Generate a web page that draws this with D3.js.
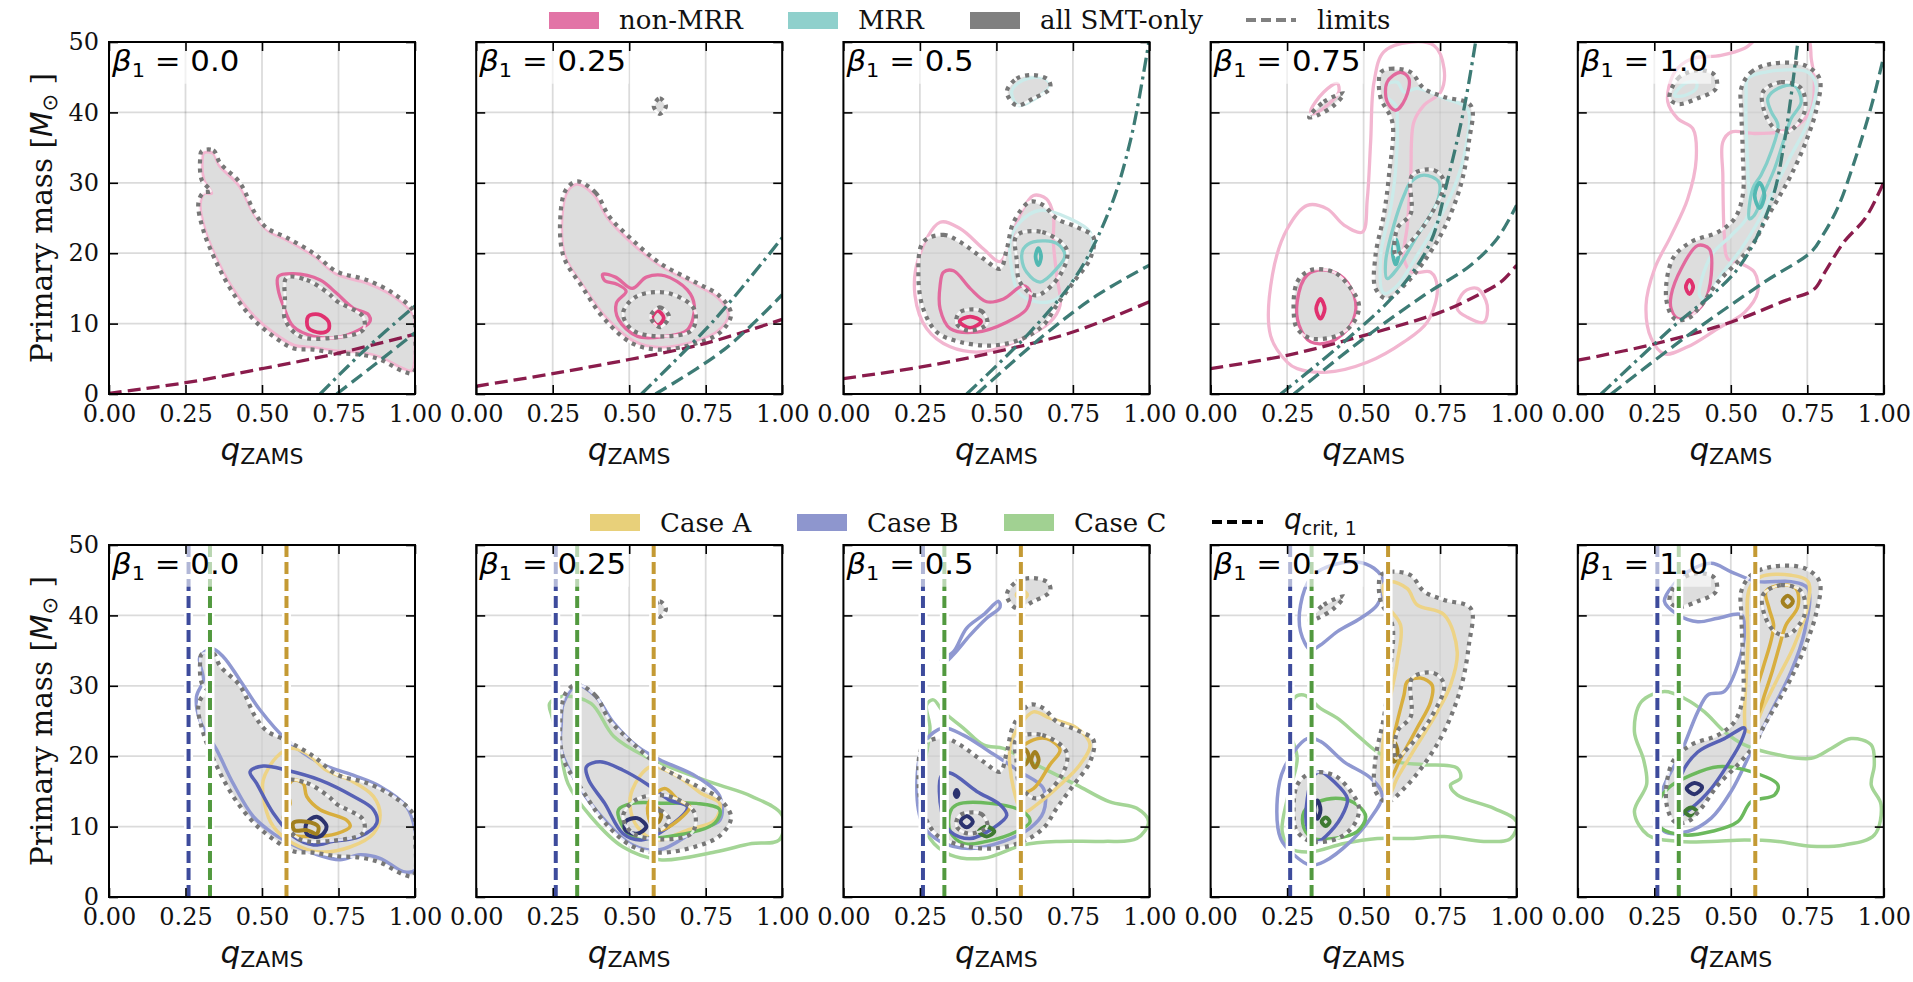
<!DOCTYPE html>
<html lang="en">
<head>
<meta charset="UTF-8">
<title>q_ZAMS vs primary mass</title>
<script src="https://d3js.org/d3.v7.min.js"></script>
<style>
  body { margin: 0; background: #fff; }
  svg { display: block; }
</style>
</head>
<body>
<script>
// ---- data (q_ZAMS, primary mass) ----
var betaLabels = ['0.0', '0.25', '0.5', '0.75', '1.0']
var qTicks = [0, 0.25, 0.5, 0.75, 1.0]
var qTickLabels = ['0.00', '0.25', '0.50', '0.75', '1.00']
var mTicks = [0, 10, 20, 30, 40, 50]
var qCrit = { B: 0.26, C: 0.33, A: 0.58 }

// all SMT-only, outermost level (filled + dotted), per beta panel
var allSmtOuter = [
  [[[0.303,34.5],[0.341,34.6],[0.363,32.8],[0.428,30],[0.477,25.7],[0.515,23.6],[0.581,22.2],[0.668,20],[0.744,17.4],[0.842,16.2],[0.929,14.3],[0.995,11.7],[1.0,8.7],[0.995,3.0],[0.962,3.2],[0.886,4.9],[0.82,5.6],[0.744,5.8],[0.668,6.3],[0.602,6.5],[0.537,8.2],[0.472,10.6],[0.406,14.3],[0.352,18.6],[0.308,23.3],[0.292,27.1],[0.308,28.6],[0.332,28.8],[0.303,30.4],[0.298,33.5]]],
  [[[0.33,30.2],[0.39,28.6],[0.435,25.2],[0.51,21.9],[0.6,18.6],[0.72,15.8],[0.796,13.9],[0.833,11.3],[0.796,8.7],[0.72,7.2],[0.6,6.3],[0.51,7.2],[0.42,10.6],[0.345,15.3],[0.285,19.6],[0.275,25.2],[0.293,29.0]],
   [[0.58,40.9],[0.6,42.0],[0.62,40.9],[0.6,39.8]]],
  [[[0.261,21.6],[0.327,22.6],[0.381,21.6],[0.458,19.2],[0.512,17.8],[0.534,20.6],[0.556,24.4],[0.61,27.3],[0.654,26.8],[0.697,24.9],[0.763,23.7],[0.817,22.3],[0.806,19.2],[0.752,15.9],[0.697,12.6],[0.654,9.8],[0.588,7.9],[0.49,6.9],[0.381,7.4],[0.305,8.8],[0.261,12.1],[0.245,16.9]],
   [[0.534,42.9],[0.566,44.8],[0.621,45.3],[0.67,44.6],[0.675,43.4],[0.621,42],[0.566,41]]],
  [[[0.556,45.7],[0.588,46.2],[0.654,45.7],[0.697,43.4],[0.763,42.2],[0.85,41],[0.844,35.8],[0.817,29.6],[0.763,23.5],[0.697,18.8],[0.632,15.4],[0.577,13.5],[0.539,15],[0.539,19.7],[0.566,25.4],[0.583,31.1],[0.594,38.6],[0.556,42],[0.55,44.3]],
   [[0.272,11.2],[0.283,15.9],[0.327,17.6],[0.403,17.3],[0.458,15],[0.485,12.6],[0.468,10.2],[0.414,8.3],[0.327,7.9],[0.283,9.3]],
   [[0.322,39.3],[0.37,41.5],[0.436,42.7],[0.403,41],[0.35,39.6]]],
  [[[0.534,43.4],[0.566,45.7],[0.632,46.9],[0.741,46.7],[0.79,44.8],[0.78,40.5],[0.745,35.8],[0.697,31.1],[0.654,27.7],[0.61,24.4],[0.577,21.6],[0.523,18.8],[0.458,15.9],[0.403,12.6],[0.359,10.7],[0.316,10.7],[0.289,13.5],[0.31,19.2],[0.37,21.6],[0.458,23],[0.512,24.9],[0.539,28.2],[0.539,34.4],[0.534,40.5]],
   [[0.3,42],[0.327,44.8],[0.392,46],[0.447,45.3],[0.452,43.4],[0.392,42],[0.327,41.2]]]
]
// all SMT-only, inner levels (dotted only)
var allSmtInner = [
  [[[0.58,16.5],[0.646,16.2],[0.717,14.3],[0.744,13.2],[0.83,11],[0.83,9.1],[0.733,8.0],[0.624,8.2],[0.575,10.6],[0.575,13.4]]],
  [[[0.526,13.9],[0.63,14.3],[0.713,12],[0.705,9.1],[0.6,8.2],[0.51,9.1],[0.48,11.5]],
   [[0.57,11],[0.6,12.3],[0.63,11],[0.6,9.5]]],
  [[[0.566,22.5],[0.65,23],[0.73,20.5],[0.708,16.9],[0.63,14],[0.577,15.9],[0.566,19.2]],
   [[0.38,11.6],[0.45,11.8],[0.47,10],[0.41,9.0],[0.37,10]]],
  [[[0.659,31.1],[0.73,31.8],[0.763,30.1],[0.719,25.4],[0.654,21.6],[0.605,19.7],[0.61,23.5],[0.654,25.6]]],
  [[[0.605,42.9],[0.664,44.3],[0.73,43.4],[0.741,40.1],[0.686,37.2],[0.643,37.7],[0.61,40.1]]]
]

// non-MRR contours (top row)
var nonMrrOuter = [
  [[[0.31,34.3],[0.34,34.2],[0.36,32.5],[0.425,29.6],[0.475,25.5],[0.52,23.2],[0.585,21.8],[0.67,19.6],[0.745,17.0],[0.84,15.8],[0.93,13.9],[0.995,11.2],[1.0,8.5],[0.99,3.3],[0.96,3.6],[0.886,5.2],[0.82,5.9],[0.744,6.1],[0.668,6.6],[0.605,6.9],[0.54,8.6],[0.475,11],[0.41,14.6],[0.356,18.8],[0.313,23.4],[0.298,27],[0.312,28.5],[0.335,28.5],[0.31,30.4],[0.305,33.5]]],
  [[[0.33,29.8],[0.385,28.3],[0.43,25],[0.505,21.6],[0.6,18.3],[0.72,15.5],[0.79,13.7],[0.825,11.3],[0.79,8.9],[0.72,7.5],[0.6,6.6],[0.515,7.5],[0.425,10.8],[0.35,15.3],[0.29,19.6],[0.28,25],[0.298,28.8]]],
  [[[0.245,19.2],[0.316,24.4],[0.381,23.5],[0.458,20.6],[0.512,18.8],[0.545,21.6],[0.577,25.4],[0.621,28.2],[0.664,27.7],[0.686,25.4],[0.686,21.6],[0.697,16.9],[0.708,12.6],[0.675,10.2],[0.588,7.9],[0.458,6.0],[0.349,6.7],[0.272,9.3],[0.234,14]]],
  [[[0.251,4.5],[0.196,8.3],[0.202,16.9],[0.251,23.5],[0.316,26.8],[0.381,26.3],[0.436,24],[0.496,23],[0.512,27.7],[0.523,35.8],[0.534,44.3],[0.566,48.6],[0.654,50],[0.73,49.5],[0.763,46.2],[0.752,42.9],[0.697,41],[0.664,38.6],[0.654,31.1],[0.643,24],[0.632,19.2],[0.659,17.3],[0.719,17.3],[0.741,15],[0.708,10.2],[0.632,7.4],[0.512,4.5],[0.381,3.1],[0.283,3.6]],
   [[0.327,40.1],[0.37,42.9],[0.414,44.1],[0.419,42.9],[0.381,41],[0.338,39.8]],
   [[0.806,12.1],[0.828,14.5],[0.871,15],[0.904,12.6],[0.893,10.2],[0.839,10.9]]],
  [[[0.588,50.5],[0.545,49.1],[0.468,48.1],[0.37,47.6],[0.316,45.7],[0.294,41.5],[0.327,39.1],[0.376,37.7],[0.387,33.4],[0.359,27.7],[0.305,22.5],[0.251,17.8],[0.223,12.6],[0.24,7.9],[0.283,5.7],[0.359,6.7],[0.458,9.3],[0.545,11.6],[0.588,14.5],[0.577,17.3],[0.534,18.5],[0.49,19.2],[0.479,22.5],[0.474,31.1],[0.474,35.8],[0.501,37.2],[0.577,37],[0.654,37.2],[0.719,38.2],[0.763,40.5],[0.773,44.3],[0.763,47.6],[0.752,50.5],[0.67,51.5]]]
]
var nonMrrMid = [
  [[[0.553,16.7],[0.602,17.1],[0.69,16.2],[0.744,14.3],[0.798,12.2],[0.847,11.3],[0.853,10.3],[0.798,8.7],[0.744,8.0],[0.668,8.2],[0.602,9.6],[0.57,12.5],[0.553,14.8]]],
  [[[0.413,17.0],[0.455,16.6],[0.51,15.0],[0.556,16.6],[0.616,16.8],[0.69,14.8],[0.713,12.5],[0.69,9.1],[0.616,8.2],[0.526,8.2],[0.465,10.6],[0.458,12.9],[0.49,14.6],[0.46,15.6],[0.42,16.1]]],
  [[[0.327,17.3],[0.36,17.5],[0.414,15],[0.468,13.1],[0.523,13.5],[0.588,15.4],[0.61,14.5],[0.599,12.1],[0.534,10.2],[0.436,8.8],[0.349,9.3],[0.316,12.1],[0.316,15.4]]],
  [[[0.283,13.1],[0.316,16.9],[0.376,17.6],[0.436,16.4],[0.474,13.1],[0.458,9.8],[0.392,7.4],[0.327,7.4],[0.289,9.8]],
   [[0.577,44.3],[0.621,45.7],[0.648,44.8],[0.637,42],[0.605,40.3],[0.577,41.5]]],
  [[[0.305,14],[0.338,17.8],[0.392,21.1],[0.43,20.6],[0.436,16.9],[0.414,13.1],[0.37,11.2],[0.327,10.7],[0.305,12.1]]]
]
var nonMrrInner = [
  [[[0.651,11.0],[0.684,11.3],[0.717,10.3],[0.717,9.1],[0.69,8.7],[0.651,9.4]]],
  [[[0.575,10.8],[0.593,11.8],[0.613,10.8],[0.593,9.8]]],
  [[[0.38,10.3],[0.414,11.0],[0.45,10.3],[0.414,9.4]]],
  [[[0.345,12.1],[0.359,13.5],[0.373,12.1],[0.359,10.7]]],
  [[[0.353,15.2],[0.365,16.2],[0.377,15.2],[0.365,14.2]]]
]
// MRR contours (top row)
var mrrOuter = [
  [], [],
  [[[0.55,43],[0.588,44.6],[0.654,44.9],[0.675,43.8],[0.643,42.4],[0.572,41]],
   [[0.545,21.6],[0.577,24.4],[0.643,26.1],[0.741,24.9],[0.806,23],[0.812,20.6],[0.763,16.9],[0.697,13.5],[0.632,13.1],[0.572,14.5],[0.55,17.8]]],
  [[[0.572,43.8],[0.61,44.3],[0.632,42.9],[0.675,43.4],[0.763,42],[0.839,40.5],[0.833,34.8],[0.795,29.2],[0.741,24.4],[0.675,19.7],[0.61,15.4],[0.566,14.3],[0.556,19.7],[0.588,26.3],[0.605,32],[0.61,38.6],[0.605,41],[0.577,42.2]]],
  [[[0.556,44.8],[0.61,45.7],[0.752,45.7],[0.779,43.8],[0.752,38.6],[0.697,33.9],[0.643,29.2],[0.588,24.4],[0.534,20.6],[0.468,16.9],[0.414,13.5],[0.398,14],[0.436,19.7],[0.501,22.5],[0.556,25.4],[0.556,31.1],[0.55,38.2],[0.55,42.4]],
   [[0.316,42.4],[0.349,44.1],[0.387,44.3],[0.387,43.4],[0.349,42.4]]]
]
var mrrMid = [
  [], [],
  [[[0.588,20.6],[0.621,21.6],[0.697,21.4],[0.724,19.7],[0.697,17.8],[0.643,15.9],[0.599,17.3],[0.583,19.2]]],
  [[[0.654,30.1],[0.697,31.1],[0.746,30.1],[0.741,27.3],[0.675,22.5],[0.61,17.8],[0.577,16.4],[0.572,18.8],[0.599,24],[0.632,28.2]]],
  [[[0.621,42],[0.654,43.4],[0.708,43.8],[0.73,41.5],[0.697,39.1],[0.675,36.3],[0.643,32],[0.61,28.7],[0.577,25.4],[0.561,24.9],[0.572,29.2],[0.599,31.1],[0.632,34.4],[0.654,38.2],[0.632,40.1]]]
]
var mrrInner = [
  [], [],
  [[[0.628,19.5],[0.637,20.7],[0.646,19.5],[0.637,18.3]]],
  [[[0.595,20.2],[0.605,22],[0.615,20.2],[0.605,18.4]]],
  [[[0.578,28.2],[0.594,30],[0.61,28.2],[0.594,26.4]]]
]

// limits (top row)
var limitRed = [
  [[0,0.1],[0.25,1.6],[0.5,3.6],[0.75,5.8],[1,8.5]],
  [[0,1.1],[0.25,2.9],[0.5,4.9],[0.75,7.2],[1,10.6]],
  [[0,2.2],[0.25,3.8],[0.5,6.0],[0.75,8.8],[1,13.1]],
  [[0,3.6],[0.25,5.5],[0.5,8.3],[0.75,11.6],[0.871,14],[0.948,15.9],[1,18.3]],
  [[0,4.8],[0.25,7.1],[0.5,10.2],[0.68,13.3],[0.77,14.8],[0.81,17.5],[0.87,21.6],[0.94,25],[1.0,30.1]]
]
var limitDashDot = [
  [[0.69,0],[0.842,6.5],[1.0,12.5]],
  [[0.54,0],[0.78,10.6],[1.0,22.2]],
  [[0.403,0],[0.61,8.8],[0.763,16.9],[0.871,26.3],[0.937,35.8],[0.991,48.1],[1.0,50.5]],
  [[0.229,0],[0.436,7.4],[0.61,14.5],[0.719,21.6],[0.773,30.1],[0.828,40.5],[0.866,50]],
  [[0.076,0],[0.305,9.3],[0.523,17.8],[0.632,27.3],[0.675,35.8],[0.719,50]]
]
var limitDash = [
  [[0.744,0],[0.875,4.4],[1.0,8.7]],
  [[0.586,0],[0.81,6.3],[1.0,14.1]],
  [[0.436,0],[0.654,8.3],[0.828,14],[1.0,18.3]],
  [[0.272,0],[0.501,7.9],[0.697,14],[0.85,18.3],[0.937,22.1],[1.0,26.8]],
  [[0.109,0],[0.359,8.3],[0.61,15.9],[0.763,20.2],[0.8,22.5],[0.85,26.5],[0.9,32.5],[0.96,41],[1.0,48]]
]

// Case A / B / C contours (bottom row)
var caseAOuter = [
  [[[0.504,16.6],[0.548,19.9],[0.592,21.1],[0.646,20.4],[0.711,18],[0.788,16.6],[0.864,14.3],[0.886,11.6],[0.864,9.0],[0.788,7.1],[0.69,6.4],[0.602,7.6],[0.537,10],[0.508,13.3]]],
  [[[0.51,15.2],[0.57,18.5],[0.66,17.1],[0.736,14.7],[0.796,13.3],[0.78,10.9],[0.69,9.5],[0.586,8.1],[0.526,10],[0.503,12.8]]],
  [[[0.545,21.6],[0.577,24.4],[0.621,26.3],[0.675,25.4],[0.763,24],[0.806,21.6],[0.773,18.8],[0.708,15.9],[0.643,13.5],[0.588,12.1],[0.556,15.4]],
   [[0.565,42.9],[0.583,43.6],[0.601,42.9],[0.583,42.2]]],
  [[[0.566,44.3],[0.588,44.8],[0.643,43.8],[0.675,41.5],[0.763,40.1],[0.806,34.8],[0.784,30.1],[0.741,26.3],[0.675,21.6],[0.61,16.9],[0.583,14.5],[0.566,15.4],[0.561,20.6],[0.583,27.3],[0.61,33.4],[0.621,38.6],[0.577,41.5]]],
  [[[0.545,25.4],[0.556,35.8],[0.561,43.8],[0.599,45.5],[0.697,45.7],[0.752,44.8],[0.752,41.5],[0.708,35.8],[0.654,31.1],[0.61,27.3],[0.566,23.5],[0.55,23.7]]]
]
var caseAMid = [
  [[[0.581,15.2],[0.602,16.6],[0.635,16.1],[0.646,14.3],[0.69,12.4],[0.777,10.9],[0.788,10],[0.744,9.0],[0.668,8.6],[0.592,9.0],[0.57,11.4],[0.592,13.3]]],
  [[[0.563,13.3],[0.616,15.4],[0.66,13.8],[0.698,12.8],[0.66,10.9],[0.6,9.5],[0.57,10.5]]],
  [[[0.572,20.6],[0.61,22.1],[0.664,22.5],[0.708,20.9],[0.675,18.8],[0.621,15.4],[0.583,15],[0.572,17.8]]],
  [[[0.643,30.6],[0.686,31.1],[0.724,30.1],[0.719,27.7],[0.675,24],[0.621,19.7],[0.588,16.9],[0.583,19.2],[0.605,24],[0.632,28.7]]],
  [[[0.615,43.4],[0.664,44.3],[0.713,43.8],[0.719,41.2],[0.68,38.6],[0.66,35.8],[0.635,32],[0.61,28.7],[0.588,26],[0.572,25.6],[0.583,29.2],[0.605,32.5],[0.632,36.5],[0.64,38.6],[0.625,41]]]
]
var caseAInner = [
  [[[0.602,10.5],[0.646,10.7],[0.684,10],[0.679,9.0],[0.646,9.5],[0.606,9.5]]],
  [[[0.581,11.6],[0.593,12.6],[0.605,11.6],[0.593,10.6]]],
  [[[0.582,19.9],[0.594,21],[0.606,19.9],[0.594,18.8]], [[0.614,19.5],[0.626,20.6],[0.638,19.5],[0.626,18.4]]],
  [[[0.587,20.6],[0.599,22],[0.611,20.6],[0.599,19.2]]],
  [[[0.669,42],[0.686,42.8],[0.703,42],[0.686,41.2]]]
]
var caseBOuter = [
  [[[0.297,34.1],[0.336,35.3],[0.374,34.1],[0.428,30.8],[0.493,26.6],[0.581,22.3],[0.69,19],[0.798,17.3],[0.886,15.7],[0.973,12.8],[1.0,9.5],[1.0,3.8],[0.962,3.6],[0.886,5.5],[0.82,6],[0.755,5.3],[0.668,6.2],[0.602,7.4],[0.537,9.0],[0.472,11.4],[0.406,16.1],[0.352,20.9],[0.297,25.1],[0.286,28.5],[0.308,30.8],[0.297,33.2]]],
  [[[0.285,27.5],[0.33,30.1],[0.39,28.5],[0.45,24.7],[0.526,21.4],[0.6,19.5],[0.72,17.1],[0.796,14.3],[0.796,10.9],[0.72,9.5],[0.6,6.7],[0.51,7.4],[0.42,10.9],[0.33,16.1],[0.278,20.9],[0.278,24.6]]],
  [[[0.24,15.9],[0.267,22.1],[0.327,24],[0.392,23],[0.479,20.6],[0.577,17.8],[0.654,15.4],[0.654,12.1],[0.61,9.8],[0.523,7.9],[0.414,6.9],[0.316,7.9],[0.261,10.2]],
   [[0.321,33.7],[0.359,34.8],[0.403,38.2],[0.458,40.1],[0.507,42],[0.512,41.2],[0.468,39.6],[0.414,37.2],[0.359,34.4],[0.327,33.2]]],
  [[[0.218,14],[0.24,18.3],[0.316,22.5],[0.359,22.1],[0.436,19.2],[0.523,16.9],[0.561,14.5],[0.523,11.2],[0.458,7.9],[0.37,5.0],[0.327,4.5],[0.272,6.0],[0.229,8.3]],
   [[0.327,35.1],[0.294,37.7],[0.294,41.5],[0.327,45.3],[0.381,46.9],[0.479,47.6],[0.534,46.7],[0.566,44.8],[0.545,41.5],[0.49,39.6],[0.414,37.7],[0.359,35.8]]],
  [[[0.283,42],[0.316,44.5],[0.359,46.2],[0.436,47.4],[0.501,46.2],[0.588,44.8],[0.697,44.8],[0.752,43.8],[0.741,37.7],[0.697,32],[0.632,26.3],[0.566,20.6],[0.501,15],[0.436,11.2],[0.359,9.3],[0.283,9.3],[0.256,12.1],[0.283,15.9],[0.338,20.6],[0.392,26.3],[0.425,28.7],[0.479,29.2],[0.523,33],[0.545,37.7],[0.534,40.1],[0.458,39.6],[0.392,39.1],[0.327,40.1]]]
]
var caseBMid = [
  [[[0.461,17.8],[0.504,18.6],[0.581,18],[0.69,16.6],[0.798,14.3],[0.864,12.4],[0.875,10.5],[0.82,8.6],[0.733,7.9],[0.668,7.4],[0.602,8.6],[0.537,11.9],[0.483,16.1]]],
  [[[0.36,18.5],[0.405,19.2],[0.48,18],[0.556,16.1],[0.63,13.8],[0.69,12.8],[0.63,10],[0.54,8.1],[0.48,9.0],[0.42,13.3],[0.368,16.6]]],
  [[[0.321,17.3],[0.349,17.6],[0.436,15],[0.512,13.1],[0.534,11.6],[0.49,9.8],[0.414,8.3],[0.349,9.3],[0.321,12.1]]],
  [[[0.338,17.3],[0.359,17.8],[0.403,16.4],[0.447,14],[0.436,12.1],[0.392,9.3],[0.349,7.9],[0.316,9.8],[0.316,14]]],
  [[[0.327,13.1],[0.338,17.3],[0.392,20.6],[0.479,22.5],[0.545,24],[0.534,22.1],[0.49,18.8],[0.436,15.4],[0.37,12.6],[0.332,11.6]]]
]
var caseBInner = [
  [[[0.646,10.5],[0.679,11.4],[0.711,10],[0.689,8.6],[0.646,9.0]]],
  [[[0.488,10.7],[0.526,11.2],[0.556,10],[0.526,9.0],[0.488,9.5]]],
  [[[0.383,10.7],[0.403,11.5],[0.423,10.7],[0.403,9.9]], [[0.364,14.7],[0.37,15.2],[0.376,14.7],[0.37,14.2]]],
  [[[0.339,12.4],[0.349,13.7],[0.359,12.4],[0.349,11.1]]],
  [[[0.356,15.4],[0.381,16.2],[0.406,15.6],[0.381,14.6]]]
]
var caseCOuter = [
  [],
  [[[0.24,27.5],[0.285,28.5],[0.375,27.5],[0.45,22.8],[0.556,19.9],[0.66,18],[0.78,16.1],[0.9,14.3],[1.0,11.6],[0.99,8.1],[0.9,7.6],[0.78,6.4],[0.6,5.3],[0.48,7.1],[0.375,11.4],[0.3,16.1],[0.27,22.3],[0.248,25.6]]],
  [[[0.272,27.3],[0.294,28],[0.327,26.3],[0.392,24],[0.458,21.6],[0.523,21.1],[0.588,19.7],[0.675,17.8],[0.763,15.9],[0.871,13.5],[0.959,12.6],[0.997,10.7],[0.959,8.3],[0.85,7.9],[0.708,7.9],[0.588,7.4],[0.458,5.5],[0.349,6.0],[0.283,8.3],[0.251,13.1],[0.267,19.2],[0.283,24]]],
  [[[0.272,28.2],[0.305,28.7],[0.359,26.8],[0.414,25.4],[0.479,23],[0.545,20.6],[0.61,19.2],[0.697,18.8],[0.806,18.3],[0.817,16.9],[0.784,15.9],[0.806,14.5],[0.926,12.6],[1.0,10.7],[0.98,8.3],[0.893,7.9],[0.763,8.6],[0.654,8.3],[0.545,8.3],[0.436,7.6],[0.327,6.4],[0.261,6.9],[0.234,9.3],[0.251,14],[0.283,19.7],[0.261,23.5]]],
  [[[0.207,27.7],[0.283,29.2],[0.349,28.2],[0.414,26.3],[0.479,23.5],[0.545,21.6],[0.654,20.2],[0.763,19.7],[0.828,21.1],[0.893,22.5],[0.959,21.6],[0.969,18.8],[0.959,15.9],[0.991,13.1],[0.969,8.8],[0.871,7.4],[0.763,7.2],[0.654,7.9],[0.545,8.1],[0.436,7.9],[0.327,7.9],[0.229,8.8],[0.185,12.1],[0.225,16],[0.215,19.5],[0.185,23.5]]]
]
var caseCMid = [
  [],
  [[[0.465,12.4],[0.51,13.3],[0.63,13.3],[0.72,13.3],[0.796,12.4],[0.78,10.5],[0.63,8.6],[0.51,8.6],[0.473,10.5]]],
  [[[0.349,12.1],[0.37,13.1],[0.479,13.3],[0.588,12.1],[0.61,10.7],[0.566,9.3],[0.468,7.9],[0.392,7.6],[0.349,9.3]]],
  [[[0.305,12.1],[0.349,13.5],[0.425,14],[0.479,13.1],[0.507,11.4],[0.479,9.3],[0.403,8.3],[0.338,8.3],[0.305,9.8]]],
  [[[0.251,12.1],[0.294,15.4],[0.37,17.3],[0.458,18.5],[0.566,17.8],[0.654,15.9],[0.643,14.5],[0.566,13.5],[0.523,10.7],[0.436,9.3],[0.349,8.8],[0.272,9.8]]]
]
var caseCInner = [
  [], [],
  [[[0.443,9.3],[0.468,10],[0.493,9.3],[0.468,8.6]]],
  [[[0.363,10.7],[0.376,11.3],[0.389,10.7],[0.376,10.1]]],
  [[[0.35,12.1],[0.37,12.7],[0.39,12.1],[0.37,11.5]]]
]

// ---- layout ----
var width = 1913, height = 982
var panelW = 306, panelH = 352
var rowTop = [42, 545]
function colLeft(i) { return 109 + i * 367.2 }

var svg = d3.select('body').append('svg').attr('width', width).attr('height', height)
svg.append('defs').append('clipPath').attr('id', 'clip')
  .append('rect').attr('width', panelW).attr('height', panelH)

var xScale = d3.scaleLinear().domain([0, 1]).range([0, panelW])
var yScale = d3.scaleLinear().domain([0, 50]).range([panelH, 0])
var closedLine = d3.line().x(d => xScale(d[0])).y(d => yScale(d[1]))
  .curve(d3.curveCatmullRomClosed.alpha(0.5))
var openLine = d3.line().x(d => xScale(d[0])).y(d => yScale(d[1]))
  .curve(d3.curveCatmullRom.alpha(0.5))

function contours(g, polys, color, w) {
  g.selectAll(null).data(polys).enter().append('path')
    .attr('d', closedLine).attr('fill', 'none')
    .attr('stroke', color).attr('stroke-width', w).attr('stroke-linejoin', 'round')
}
function dotted(g, polys) {
  g.selectAll(null).data(polys).enter().append('path')
    .attr('d', closedLine).attr('fill', 'none')
    .attr('stroke', '#fff').attr('stroke-width', 2.5).attr('stroke-opacity', 0.8)
  g.selectAll(null).data(polys).enter().append('path')
    .attr('d', closedLine).attr('fill', 'none')
    .attr('stroke', '#777').attr('stroke-width', 4.2).attr('stroke-dasharray', '4,5')
}

function drawPanel(row, i) {
  var g = svg.append('g').attr('transform', 'translate(' + colLeft(i) + ',' + rowTop[row] + ')')
  var c = g.append('g').attr('clip-path', 'url(#clip)')

  // grid
  c.selectAll(null).data(qTicks).enter().append('line')
    .attr('x1', d => xScale(d)).attr('x2', d => xScale(d)).attr('y1', 0).attr('y2', panelH)
    .attr('stroke', '#000').attr('stroke-opacity', 0.14).attr('stroke-width', 1.8)
  c.selectAll(null).data(mTicks).enter().append('line')
    .attr('y1', d => yScale(d)).attr('y2', d => yScale(d)).attr('x1', 0).attr('x2', panelW)
    .attr('stroke', '#000').attr('stroke-opacity', 0.14).attr('stroke-width', 1.8)

  // all SMT-only filled region
  c.selectAll(null).data(allSmtOuter[i]).enter().append('path')
    .attr('d', closedLine).attr('fill', '#cfcfcf').attr('fill-opacity', 0.7)

  if (row === 0) {
    contours(c, nonMrrOuter[i], '#f2b6d0', 3.3)
    contours(c, mrrOuter[i], '#cbebea', 3.3)
    contours(c, nonMrrMid[i], '#e2699d', 3.3)
    contours(c, mrrMid[i], '#84cec9', 3.3)
    contours(c, nonMrrInner[i], '#e0316f', 3.8)
    contours(c, mrrInner[i], '#52b8b2', 3.8)
  } else {
    contours(c, caseCOuter[i], '#a4d596', 3.5)
    contours(c, caseBOuter[i], '#8f98d1', 3.5)
    contours(c, caseAOuter[i], '#edd386', 3.5)
    contours(c, caseCMid[i], '#6cb95d', 3.5)
    contours(c, caseBMid[i], '#5761b5', 3.5)
    contours(c, caseAMid[i], '#d8ae3e', 3.5)
    contours(c, caseCInner[i], '#3f7a32', 4)
    contours(c, caseBInner[i], '#2c336f', 4)
    contours(c, caseAInner[i], '#a2801f', 4)
  }

  dotted(c, allSmtOuter[i])
  dotted(c, allSmtInner[i])

  if (row === 0) {
    c.append('path').attr('d', openLine(limitRed[i])).attr('fill', 'none')
      .attr('stroke', '#8a1c4c').attr('stroke-width', 3.3).attr('stroke-dasharray', '13,6')
    c.append('path').attr('d', openLine(limitDash[i])).attr('fill', 'none')
      .attr('stroke', '#3d7b75').attr('stroke-width', 3.3).attr('stroke-dasharray', '13,6')
    c.append('path').attr('d', openLine(limitDashDot[i])).attr('fill', 'none')
      .attr('stroke', '#3d7b75').attr('stroke-width', 3.3).attr('stroke-dasharray', '14,5,3,5')
  } else {
    var crit = [[qCrit.B, '#3d4b9c'], [qCrit.C, '#52993f'], [qCrit.A, '#c49a34']]
    c.selectAll(null).data(crit).enter().append('line')
      .attr('x1', d => xScale(d[0])).attr('x2', d => xScale(d[0])).attr('y1', 0).attr('y2', panelH)
      .attr('stroke', '#fff').attr('stroke-width', 9)
    c.selectAll(null).data(crit).enter().append('line')
      .attr('x1', d => xScale(d[0])).attr('x2', d => xScale(d[0])).attr('y1', 0).attr('y2', panelH)
      .attr('stroke', d => d[1]).attr('stroke-width', 4).attr('stroke-dasharray', '12,5')
  }

  // beta label with translucent box (glyphs slightly wide, as in the figure)
  var sx = 1.1
  var box = g.append('rect').attr('fill', '#fff').attr('fill-opacity', 0.6)
  var lab = g.append('text').attr('transform', 'translate(3,29) scale(' + sx + ',1)')
    .attr('font-family', 'DejaVu Sans').attr('font-size', 28)
  lab.append('tspan').attr('font-style', 'italic').text('β')
  lab.append('tspan').attr('font-size', 19).attr('dy', 6).text('1')
  lab.append('tspan').attr('dy', -6).text(' = ' + betaLabels[i])
  var bb = lab.node().getBBox()
  box.attr('x', 0).attr('y', 0).attr('width', 3 + (bb.x + bb.width) * sx + 3)
    .attr('height', 29 + bb.y + bb.height + 2)

  // axes, ticks pointing inward on all sides
  var bottom = g.append('g').attr('transform', 'translate(0,' + panelH + ')')
    .call(d3.axisBottom(xScale).tickValues(qTicks).tickFormat((d, k) => qTickLabels[k])
      .tickSizeInner(-9).tickSizeOuter(0).tickPadding(11))
  var top = g.append('g')
    .call(d3.axisTop(xScale).tickValues(qTicks).tickFormat('').tickSizeInner(-9).tickSizeOuter(0))
  var left = g.append('g')
    .call(d3.axisLeft(yScale).tickValues(mTicks).tickFormat(i === 0 ? d3.format('d') : '')
      .tickSizeInner(-9).tickSizeOuter(0).tickPadding(10))
  var right = g.append('g').attr('transform', 'translate(' + panelW + ',0)')
    .call(d3.axisRight(yScale).tickValues(mTicks).tickFormat('').tickSizeInner(-9).tickSizeOuter(0))
  ;[bottom, top, left, right].forEach(function (a) {
    a.select('.domain').remove()
    a.attr('font-family', 'DejaVu Serif').attr('font-size', 24)
    a.selectAll('line').attr('stroke-width', 1.6)
    a.selectAll('text').attr('fill', '#111')
  })
  g.append('rect').attr('width', panelW).attr('height', panelH)
    .attr('fill', 'none').attr('stroke', '#000').attr('stroke-width', 2)

  // x label
  var xl = g.append('text').attr('x', panelW / 2).attr('y', panelH + 66)
    .attr('text-anchor', 'middle').attr('font-family', 'DejaVu Sans').attr('fill', '#111')
  xl.append('tspan').attr('font-style', 'italic').attr('font-size', 31).text('q')
  xl.append('tspan').attr('font-size', 22).attr('dy', 4).text('ZAMS')

  // y label
  if (i === 0) {
    var yl = g.append('text')
      .attr('transform', 'translate(-57,' + (panelH / 2) + ') rotate(-90)')
      .attr('text-anchor', 'middle').attr('font-family', 'DejaVu Serif').attr('font-size', 29.5)
      .attr('fill', '#111')
    yl.append('tspan').text('Primary mass [')
    yl.append('tspan').attr('font-family', 'DejaVu Sans').attr('font-style', 'italic').text('M')
    yl.append('tspan').attr('font-family', 'DejaVu Sans').attr('font-size', 21).attr('dy', 5).text('⊙')
    yl.append('tspan').attr('dy', -5).text(' ]')
  }
}

for (var r = 0; r < 2; r++) {
  for (var i = 0; i < 5; i++) drawPanel(r, i)
}

// ---- legends ----
function patch(x, y, color, label, ty) {
  svg.append('rect').attr('x', x).attr('y', y).attr('width', 50).attr('height', 17).attr('fill', color)
  svg.append('text').attr('x', x + 70).attr('y', ty).attr('font-family', 'DejaVu Serif')
    .attr('font-size', 26).attr('fill', '#111').text(label)
}
patch(549, 12, '#e274a6', 'non-MRR', 29)
patch(788, 12, '#8fd0cc', 'MRR', 29)
patch(970, 12, '#808080', 'all SMT-only', 29)
svg.append('line').attr('x1', 1246).attr('x2', 1296).attr('y1', 20).attr('y2', 20)
  .attr('stroke', '#808080').attr('stroke-width', 4).attr('stroke-dasharray', '10,5')
svg.append('text').attr('x', 1317).attr('y', 29).attr('font-family', 'DejaVu Serif')
  .attr('font-size', 26).attr('fill', '#111').text('limits')

patch(590, 514, '#e8d07a', 'Case A', 532)
patch(797, 514, '#8e96ce', 'Case B', 532)
patch(1004, 514, '#a1d192', 'Case C', 532)
svg.append('line').attr('x1', 1212).attr('x2', 1263).attr('y1', 522).attr('y2', 522)
  .attr('stroke', '#000').attr('stroke-width', 4).attr('stroke-dasharray', '10,5')
var ql = svg.append('text').attr('x', 1284).attr('y', 529).attr('font-family', 'DejaVu Sans').attr('fill', '#111')
ql.append('tspan').attr('font-style', 'italic').attr('font-size', 28).text('q')
ql.append('tspan').attr('font-size', 19).attr('dy', 6).text('crit, 1')
</script>
</body>
</html>
